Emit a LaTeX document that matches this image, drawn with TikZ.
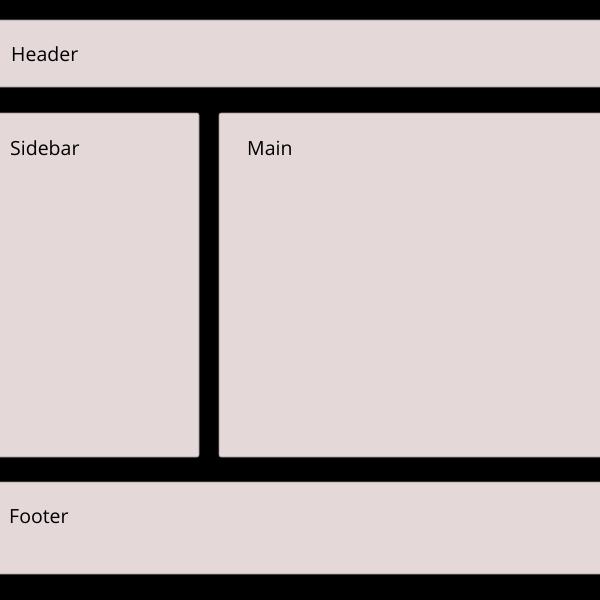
\documentclass[tikz,border=0pt]{standalone}
\usepackage{fontspec}
\setmainfont{Open Sans}
\definecolor{panel}{HTML}{E5D8D8}
\definecolor{edge}{HTML}{9A8E8E}
\begin{document}
\begin{tikzpicture}[x=1pt,y=-1pt,
  panelbox/.style={fill=panel,draw=edge,line width=0.6pt,rounded corners=2pt},
  lbl/.style={anchor=base west,inner sep=0pt,font=\fontsize{19.5}{24}\selectfont}]
\fill[black] (0,0) rectangle (600,600);
\useasboundingbox (0,0) rectangle (600,600);
\draw[panelbox] (-5,20) rectangle (605,87);
\draw[panelbox] (-5,113) rectangle (199,457);
\draw[panelbox] (219,113) rectangle (605,457);
\draw[panelbox] (-5,482) rectangle (605,574);
\node[lbl] (header) at (11,61) {Header};
\node[lbl] (sidebar) at (10,155) {Sidebar};
\node[lbl] (main) at (247,155) {Main};
\node[lbl] (footer) at (9,523) {Footer};
\end{tikzpicture}
\end{document}
